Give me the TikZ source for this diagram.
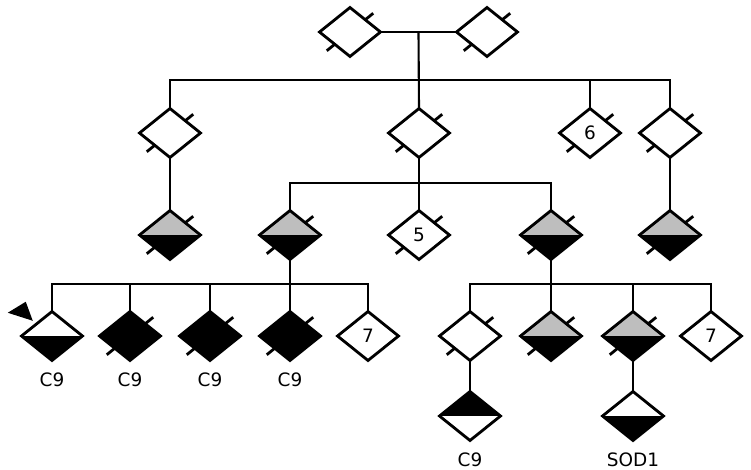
\documentclass[tikz,border=0pt]{standalone}
\usepackage{fontspec}
\setmainfont{DejaVu Sans}
\usetikzlibrary{shapes.geometric,positioning,calc}
\definecolor{midgray}{RGB}{190,190,190}

% short strokes sticking out of two opposite edges
\newcommand{\ticks}[1]{%
  \draw[tk] ($(#1.north)!0.5!(#1.east)$) -- ++(8,-6.5);
  \draw[tk] ($(#1.south)!0.5!(#1.west)$) -- ++(-8,6.5);}

\begin{document}
\begin{tikzpicture}[x=0.02cm, y=-0.02cm,
    ind/.style={diamond, draw, line width=1.6pt, fill=white, minimum width=1.22cm,
      minimum height=0.98cm, inner sep=0pt, outer sep=0pt, font=\fontsize{10.5}{13}\selectfont},
    half/.style 2 args={path picture={
      \fill[#1] (path picture bounding box.north west) rectangle (path picture bounding box.east);
      \fill[#2] (path picture bounding box.west) rectangle (path picture bounding box.south east);}},
    aff/.style={ind, half={midgray}{black}},
    ln/.style={line width=1.2pt},
    tk/.style={line width=1.6pt},
    lbl/.style={font=\fontsize{10.5}{13}\selectfont, inner sep=0pt}]
    \useasboundingbox (0,0) rectangle (751,470);
    % generation I
    \node[ind] (i1) at (350,32) {};
    \node[ind] (i2) at (487,32) {};
    % generation II
    \node[ind] (ii1) at (170,133) {};
    \node[ind] (ii2) at (419,133) {};
    \node[ind] (ii3) at (590,133) {6};
    \node[ind] (ii4) at (670,133) {};
    % generation III
    \node[aff] (iii1) at (170,235) {};
    \node[aff] (iii2) at (290,235) {};
    \node[ind] (iii3) at (419,235) {5};
    \node[aff] (iii4) at (551,235) {};
    \node[aff] (iii5) at (670,235) {};
    % generation IV
    \node[ind, half={white}{black}] (iv1) at (52,336) {};
    \node[ind, fill=black] (iv2) at (130,336) {};
    \node[ind, fill=black] (iv3) at (210,336) {};
    \node[ind, fill=black] (iv4) at (290,336) {};
    \node[ind] (iv5) at (368,336) {7};
    \node[ind] (iv6) at (470,336) {};
    \node[aff] (iv7) at (551,336) {};
    \node[aff] (iv8) at (633,336) {};
    \node[ind] (iv9) at (711,336) {7};
    % generation V
    \node[ind, half={black}{white}] (v1) at (470,416) {};
    \node[ind, half={white}{black}] (v2) at (633,416) {};
    % ticks
    \ticks{i1}\ticks{i2}
    \ticks{ii1}\ticks{ii2}\ticks{ii3}\ticks{ii4}
    \ticks{iii1}\ticks{iii2}\ticks{iii3}\ticks{iii4}\ticks{iii5}
    \ticks{iv2}\ticks{iv3}\ticks{iv4}\ticks{iv6}\ticks{iv7}\ticks{iv8}
    % marriage and sibship of generation II
    \draw[ln] (i1.east) -- (i2.west);
    \coordinate (m1) at ($(i1.east)!0.5!(i2.west)$);
    \coordinate (s1) at (0,80);
    \draw[ln] (m1) -- (ii2.north);
    \draw[ln] (ii1.north) -- (ii1.north |- s1) -- (ii4.north |- s1) -- (ii4.north);
    \draw[ln] (ii3.north) -- (ii3.north |- s1);
    \draw[ln] (ii1.south) -- (iii1.north);
    \draw[ln] (ii4.south) -- (iii5.north);
    % children of II-2
    \coordinate (s2) at (0,183);
    \draw[ln] (ii2.south) -- (iii3.north);
    \draw[ln] (iii2.north) -- (iii2.north |- s2) -- (iii4.north |- s2) -- (iii4.north);
    % children of III-2 and III-4
    \coordinate (s3) at (0,284);
    \draw[ln] (iii2.south) -- (iv4.north);
    \draw[ln] (iv1.north) -- (iv1.north |- s3) -- (iv5.north |- s3) -- (iv5.north);
    \draw[ln] (iv2.north) -- (iv2.north |- s3);
    \draw[ln] (iv3.north) -- (iv3.north |- s3);
    \draw[ln] (iii4.south) -- (iv7.north);
    \draw[ln] (iv6.north) -- (iv6.north |- s3) -- (iv9.north |- s3) -- (iv9.north);
    \draw[ln] (iv8.north) -- (iv8.north |- s3);
    % generation V
    \draw[ln] (iv6.south) -- (v1.north);
    \draw[ln] (iv8.south) -- (v2.north);
    % proband
    \fill ($(iv1.north west)+(-4,-3)$) coordinate (pa) -- ++(-25,-8) -- ++(18,-11) -- cycle;
    % carriers
    \node[lbl, below=0.24cm of iv1] (c1) {C9};
    \node[lbl, below=0.24cm of iv2] (c2) {C9};
    \node[lbl, below=0.24cm of iv3] (c3) {C9};
    \node[lbl, below=0.24cm of iv4] (c4) {C9};
    \node[lbl, below=0.24cm of v1] (c5) {C9};
    \node[lbl, below=0.24cm of v2] (c6) {SOD1};
\end{tikzpicture}
\end{document}
